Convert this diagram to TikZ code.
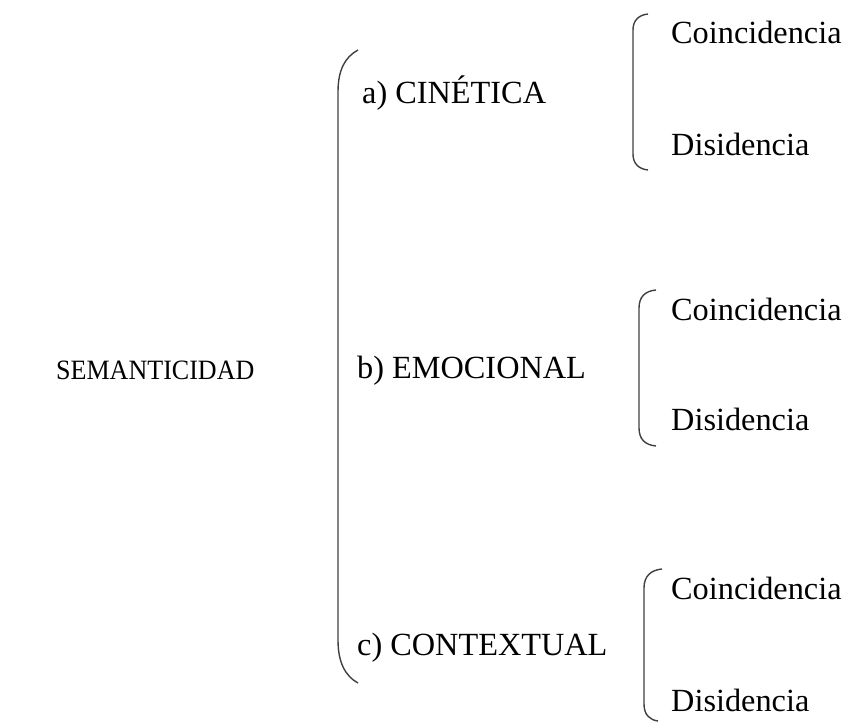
\documentclass[tikz,border=0pt]{standalone}
\usepackage{fontspec}
\setmainfont{Liberation Serif}
\usetikzlibrary{positioning}
\tikzset{
  lbl/.style={font=\fontsize{32.3}{38}\selectfont, inner sep=0pt, anchor=base west},
  brace/.style={draw=black!75, line width=1.4pt}
}
\begin{document}
\begin{tikzpicture}[x=1pt,y=-1pt]
\useasboundingbox (0,0) rectangle (847,722);
\node[lbl, font=\fontsize{28}{34}\selectfont] (S) at (56,380) {\scalebox{0.93}[1]{SEMANTICIDAD}};
\node[lbl] (A) at (362,104) {a) CINÉTICA};
\node[lbl] (B) at (357,379) {b) EMOCIONAL};
\node[lbl] (C) at (357,655) {c) CONTEXTUAL};

\node[lbl] (A1) at (671,44) {Coincidencia};
\node[lbl] (A2) at (671,156) {Disidencia};
\node[lbl] (B1) at (671,321) {Coincidencia};
\node[lbl] (B2) at (671,431) {Disidencia};
\node[lbl] (C1) at (671,599) {Coincidencia};
\node[lbl] (C2) at (671,711) {Disidencia};

% big bracket
\draw[brace] (358,50) .. controls (345,57) and (338,70) .. (338,92) -- (338,640)
  .. controls (338,662) and (345,676) .. (358,683);

% small brackets
\draw[brace] (648,14) .. controls (639,15) and (633,20) .. (633,30) -- (633,154)
  .. controls (633,164) and (639,169) .. (648,170);
\draw[brace] (656,290) .. controls (645,291) and (639,297) .. (639,308) -- (639,428)
  .. controls (639,439) and (645,445) .. (656,446);
\draw[brace] (662,569) .. controls (651,570) and (644,576) .. (644,588) -- (644,704)
  .. controls (644,715) and (650,720) .. (658,721);
\end{tikzpicture}
\end{document}
